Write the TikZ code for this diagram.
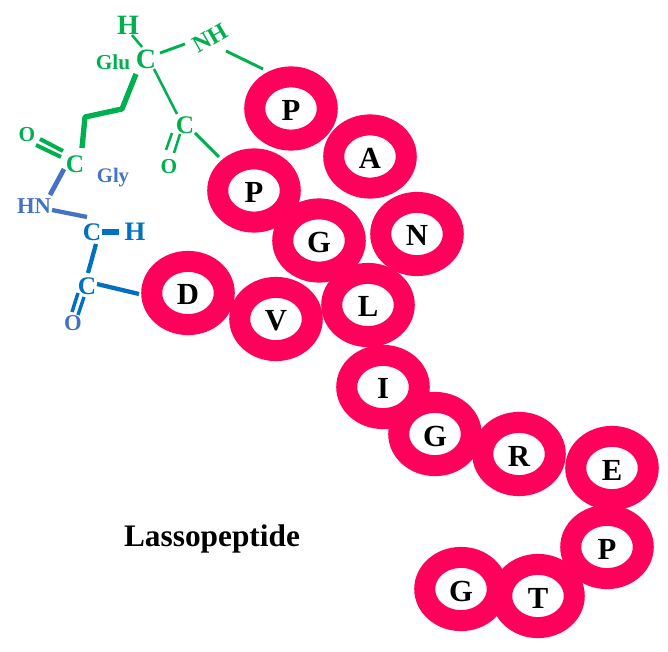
\documentclass[tikz,border=0pt]{standalone}
\usepackage{fontspec}
\setmainfont{Liberation Serif}
\usetikzlibrary{shapes.geometric}
\definecolor{ring}{RGB}{255,0,90}
\definecolor{grn}{RGB}{0,176,80}
\definecolor{slate}{RGB}{68,114,196}
\definecolor{blu}{RGB}{0,112,192}
\tikzset{x=0.75pt,y=-0.75pt,
 ringnode/.style={ellipse,draw=ring,line width=15.75pt,fill=white,minimum width=54.4pt,minimum height=47.4pt,inner sep=0pt,text height=18pt,text depth=0pt,font=\fontsize{23}{23}\selectfont\bfseries,text=black},
 atom/.style={inner sep=0pt,font=\bfseries\fontsize{#1}{#1}\selectfont},
 atom/.default=19,
 gl/.style={draw=grn,line width=#1},gl/.default=1.9pt,
 bl/.style={draw=blu,line width=#1},bl/.default=2.6pt,
 sl/.style={draw=slate,line width=3pt}}
\begin{document}
\begin{tikzpicture}
\useasboundingbox (0,0) rectangle (668,652);
% rings
\node[ringnode] (p1) at (291,108.5) {P};
\node[ringnode] (a) at (370,156.5) {A};
\node[ringnode] (n) at (417,234) {N};
\node[ringnode] (g1) at (319,240.5) {G};
\node[ringnode] (p2) at (254,190.5) {P};
\node[ringnode] (l) at (368,305) {L};
\node[ringnode] (v) at (276,319) {V};
\node[ringnode] (d) at (188,293) {D};
\node[ringnode] (i) at (383,387) {I};
\node[ringnode] (g2) at (435,434) {G};
\node[ringnode] (r) at (519,454) {R};
\node[ringnode] (e) at (612,468) {E};
\node[ringnode] (pp) at (607,547) {P};
\node[ringnode] (t) at (538,596) {T};
\node[ringnode] (g3) at (461,589) {G};
% green atoms
\node[atom=21,text=grn] (h1) at (128,25) {H};
\node[atom=21,text=grn] (c1) at (146,59) {C};
\node[atom=16,text=grn] (glu) at (113,62) {Glu};
\node[atom=18,text=grn,rotate=30] (nh) at (210,38) {NH};
\node[atom=19,text=grn] (c2) at (185,125) {C};
\node[atom=16,text=grn] (o1) at (169,167) {O};
\node[atom=16,text=grn] (o2) at (27,135) {O};
\node[atom=19,text=grn] (c3) at (75,164) {C};
\coordinate (k1) at (122,109);
\coordinate (k2) at (85,117);
% blue atoms
\node[atom=15.5,text=slate] (gly) at (113,178) {Gly};
\node[atom=17,text=slate] (hn) at (34,206) {HN};
\node[atom=19,text=blu] (c4) at (92,232) {C};
\node[atom=20,text=blu] (h2) at (135,232) {H};
\node[atom=19,text=blu] (c5) at (87,286) {C};
\node[atom=17,text=slate] (o3) at (73,323) {O};
% green bonds
\draw[gl] (132,35) -- (142,47);
\draw[gl=2.2pt] (160,53) -- (185,44);
\draw[gl=2.2pt] (226,51) -- (263,69);
\draw[gl] (154,69) -- (177,114);
\draw[gl=2.2pt] (195,133) -- (219,157);
\draw[gl] (172,133) -- (166,150);
\draw[gl] (180,134) -- (174,153);
\draw[gl=4pt,line join=round] (136,74) -- (k1) -- (k2) -- (82,148);
\draw[gl=3pt] (40,139) -- (63,151);
\draw[gl=3pt] (36,145) -- (61,157);
% slate and blue bonds
\draw[sl,line width=3.6pt] (64,169) -- (50,195);
\draw[sl,line width=3.2pt] (52,210) -- (87,217);
\draw[bl=3.8pt] (102,232) -- (119,232);
\draw[bl=3.2pt] (96,244) -- (88,273);
\draw[bl=3.2pt] (97,284) -- (139,294);
\draw[bl] (78,293) -- (72,312);
\draw[bl] (84,297) -- (78,315);
% label
\node[inner sep=0pt,font=\bfseries\fontsize{23.5}{23.5}\selectfont] (title) at (212,539) {Lassopeptide};
\end{tikzpicture}
\end{document}
